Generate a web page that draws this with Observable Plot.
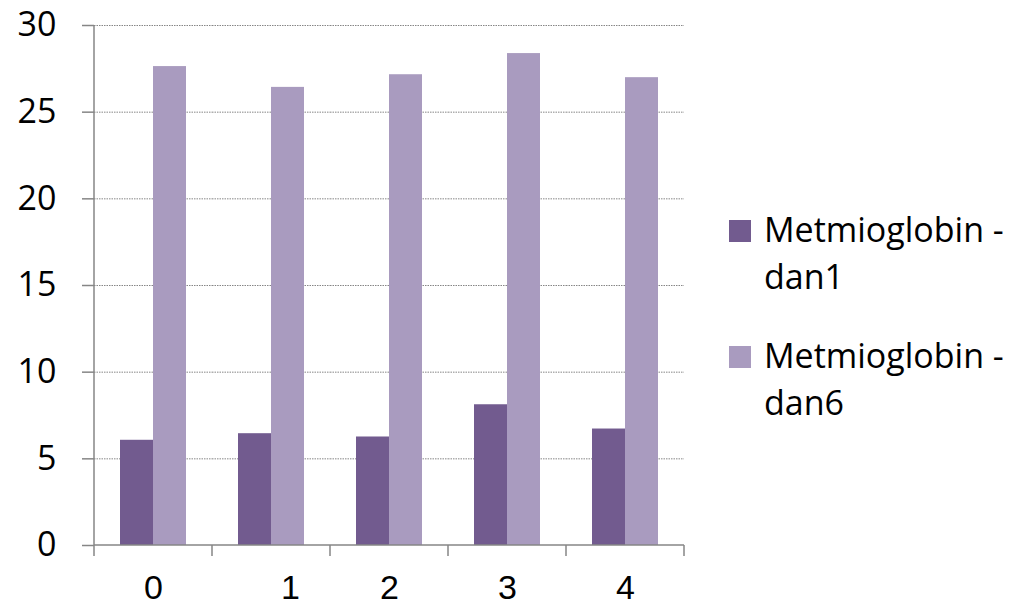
<!DOCTYPE html>
<html>
<head>
<meta charset="utf-8">
<script src="https://cdn.jsdelivr.net/npm/d3@7"></script>
<script src="https://cdn.jsdelivr.net/npm/@observablehq/plot@0.6"></script>
<style>
  html, body { margin: 0; padding: 0; background: #fff; }
  #wrap { position: relative; width: 1016px; height: 608px; overflow: hidden; }
  #chart { position: absolute; left: 0; top: 0; }
  #legend { position: absolute; left: 729px; top: 206px; font-family: "Open Sans", sans-serif; font-size: 34px; line-height: 47px; color: #000; }
  .item { display: flex; align-items: flex-start; margin-bottom: 32px; }
  .sw { width: 22px; height: 22px; margin-top: 14px; margin-right: 13px; flex: none; }
</style>
</head>
<body>
<div id="wrap">
  <div id="chart"></div>
  <div id="legend"></div>
</div>
<script>
const categories = ["0", "1", "2", "3", "4"];
const seriesNames = ["Metmioglobin - dan1", "Metmioglobin - dan6"];
const legendLines = [["Metmioglobin -", "dan1"], ["Metmioglobin -", "dan6"]];
const dan1 = [6.07, 6.45, 6.26, 8.12, 6.72];
const dan6 = [27.63, 26.43, 27.16, 28.38, 26.99];
const colors = ["#725b8f", "#a99bbf"];
const yTicks = [0, 5, 10, 15, 20, 25, 30];

const data = [];
categories.forEach((c, i) => {
  data.push({cat: c, series: seriesNames[0], value: dan1[i]});
  data.push({cat: c, series: seriesNames[1], value: dan6[i]});
});

const axisColor = "#868686";

const chart = Plot.plot({
  width: 700,
  height: 608,
  marginLeft: 93,
  marginRight: 15,
  marginTop: 25,
  marginBottom: 63,
  style: {background: "transparent", overflow: "visible"},
  fx: {domain: categories, padding: 0},
  x: {domain: seriesNames, paddingInner: 0, paddingOuter: 0.77, axis: null},
  y: {domain: [0, 30]},
  color: {domain: seriesNames, range: colors},
  marks: [
    Plot.ruleY(yTicks.filter(d => d > 0), {stroke: axisColor, strokeWidth: 1, strokeDasharray: "1.5,1"}),
    Plot.barY(data, {fx: "cat", x: "series", y: "value", fill: "series"}),
    Plot.axisY({ticks: yTicks, tickSize: 12, tickPadding: 26, stroke: axisColor, strokeWidth: 1.5,
      fontSize: 34, fontFamily: "Open Sans", fill: "#000", label: null}),
    Plot.axisFx({anchor: "bottom", tickSize: 0, tickPadding: 29, fontSize: 34,
      fontFamily: "Liberation Sans, Arial", fill: "#000", label: null,
      tickFormat: d => d === "1" ? "\u00a0\u00a0\u00a0\u00a01" : d})
  ]
});

// axis lines and boundary ticks, positioned from the chart's own scales
const fx = chart.scale("fx");
const ys = chart.scale("y");
const y0 = ys.apply(0), yTop = ys.apply(30);
const xs = categories.map(c => fx.apply(c));
const bounds = xs.concat([xs[xs.length - 1] + fx.bandwidth]);
const g = d3.select(chart).append("g").attr("stroke", axisColor).attr("stroke-width", 1.5);
g.append("line").attr("x1", bounds[0]).attr("x2", bounds[0]).attr("y1", yTop).attr("y2", y0);
g.append("line").attr("x1", bounds[0]).attr("x2", bounds[bounds.length - 1]).attr("y1", y0).attr("y2", y0);
bounds.forEach(b => g.append("line").attr("x1", b).attr("x2", b).attr("y1", y0).attr("y2", y0 + 11));

document.getElementById("chart").appendChild(chart);

const legend = document.getElementById("legend");
legendLines.forEach((lines, i) => {
  const item = document.createElement("div");
  item.className = "item";
  const sw = document.createElement("div");
  sw.className = "sw";
  sw.style.background = colors[i];
  const txt = document.createElement("div");
  txt.innerHTML = lines.join("<br>");
  item.appendChild(sw);
  item.appendChild(txt);
  legend.appendChild(item);
});
</script>
</body>
</html>
